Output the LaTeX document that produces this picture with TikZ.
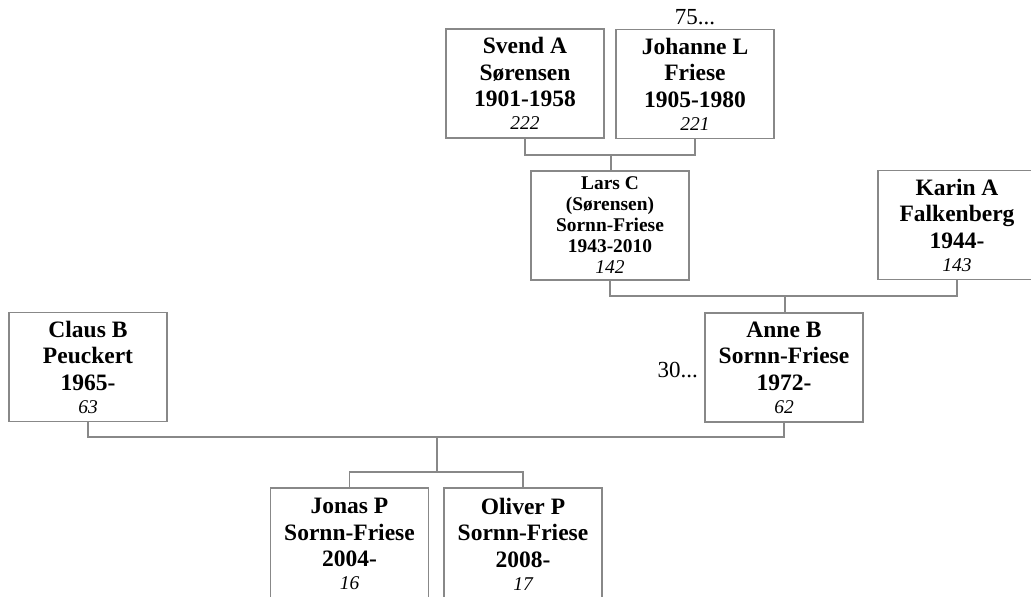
\documentclass[tikz,border=0pt]{standalone}
\usepackage{fontspec}
\setmainfont{Liberation Serif}
\definecolor{linegray}{RGB}{136,136,136}
\tikzset{
  person/.style={draw=linegray, line width=1.1pt, minimum width=158pt, minimum height=109pt,
    inner sep=0pt, align=center, font=\fontsize{23.5}{26.5}\selectfont\bfseries},
  smallperson/.style={person, font=\fontsize{19.4}{21}\selectfont\bfseries},
  cutperson/.style={person, minimum height=112pt},
  link/.style={draw=linegray, line width=1.1pt},
  more/.style={inner sep=0pt, font=\fontsize{23}{26}\selectfont},
}
\newcommand{\pnum}[1]{{\fontsize{19.5}{21}\selectfont\mdseries\itshape #1}}
\begin{document}
\begin{tikzpicture}[x=1pt,y=-1pt]
\useasboundingbox (0,0) rectangle (1031,597);
\clip (0,0) rectangle (1031,597);
\fill[white] (0,0) rectangle (1031,597);
% generation 1
\node[person] (svend) at (525,83.5) {Svend A\\Sørensen\\1901-1958\\[-3.5pt]\pnum{222}};
\node[person] (johanne) at (695,84) {Johanne L\\Friese\\1905-1980\\[-3.5pt]\pnum{221}};
\node[more, anchor=base] (more75) at (695,24) {75...};
% generation 2
\node[smallperson] (lars) at (610,225.5) {Lars C\\(Sørensen)\\Sornn-Friese\\1943-2010\\\pnum{142}};
\node[person] (karin) at (957,225) {Karin A\\Falkenberg\\1944-\\[-3.5pt]\pnum{143}};
% generation 3
\node[person] (claus) at (88,367) {Claus B\\Peuckert\\1965-\\[-3.5pt]\pnum{63}};
\node[person] (anne) at (784,367.5) {Anne B\\Sornn-Friese\\1972-\\[-3.5pt]\pnum{62}};
\node[more, anchor=base east] (more30) at (698,377) {30...};
% generation 4 (boxes run past the lower edge)
\node[cutperson] (jonas) at (349.5,544) {Jonas P\\Sornn-Friese\\2004-\\[-3.5pt]\pnum{16}};
\node[cutperson] (oliver) at (523,544) {Oliver P\\Sornn-Friese\\2008-\\[-3.5pt]\pnum{17}};
% connectors
\coordinate (j1) at (611,155);
\draw[link] (svend.south) |- (j1) -| (johanne.south);
\draw[link] (j1) -- (j1 |- lars.north);
\coordinate (j2) at (785,296);
\draw[link] (lars.south) |- (j2) -| (karin.south);
\draw[link] (j2) -- (j2 |- anne.north);
\coordinate (j3) at (437,437);
\draw[link] (claus.south) |- (j3) -| (anne.south);
\coordinate (j4) at (437,472);
\draw[link] (j3) -- (j4);
\draw[link] (jonas.north) |- (j4) -| (oliver.north);
\end{tikzpicture}
\end{document}
